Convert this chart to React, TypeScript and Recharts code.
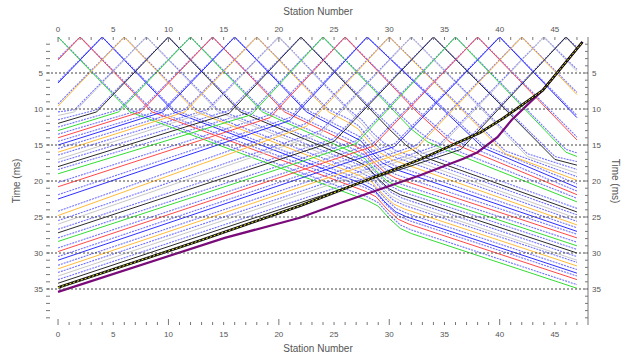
import { LineChart, Line, XAxis, YAxis, ReferenceLine } from "recharts";

// station axis
const stationTicks = [0, 1, 2, 3, 4, 5, 6, 7, 8, 9, 10, 11, 12, 13, 14, 15, 16, 17, 18, 19, 20, 21, 22, 23, 24, 25, 26, 27, 28, 29, 30, 31, 32, 33, 34, 35, 36, 37, 38, 39, 40, 41, 42, 43, 44, 45, 46, 47];

// time axis (ms)
const timeTicks = [1, 2, 3, 4, 5, 6, 7, 8, 9, 10, 11, 12, 13, 14, 15, 16, 17, 18, 19, 20, 21, 22, 23, 24, 25, 26, 27, 28, 29, 30, 31, 32, 33, 34, 35, 36, 37, 38, 39];
const gridTimes = [5, 10, 15, 20, 25, 30, 35];

// shot positions
const shotStations = [0, 2, 4, 6, 8, 10, 12, 14, 16, 18, 20, 22, 24, 26, 28, 30, 32, 34, 36, 38, 40, 42, 44, 46];

// calculated travel times, [station, ms]
const calcPicks = [
  [[0, 0], [6.5, 10.4], [28, 22.7], [29, 23.5], [30, 25.2], [31, 26.6], [32, 27.3], [47, 34.9]],
  [[0, 3.2], [2, 0], [8.5, 10.4], [27.8, 21.4], [28.8, 22.2], [29.8, 23.9], [30.8, 25.3], [31.8, 26.0], [47, 33.7]],
  [[0, 6.4], [4, 0], [10.5, 10.4], [27.6, 20.4], [28.6, 21.2], [29.6, 22.9], [30.6, 24.3], [31.6, 25.0], [47, 32.8]],
  [[0, 9.6], [6, 0], [12.5, 10.4], [27.4, 19.3], [28.4, 20.1], [29.4, 21.8], [30.4, 23.2], [31.4, 23.9], [47, 31.8]],
  [[0, 10.9], [1.5, 10.4], [8, 0], [14.5, 10.4], [27.2, 18.2], [28.2, 19.0], [29.2, 20.7], [30.2, 22.1], [31.2, 22.9], [47, 31.0]],
  [[0, 12.0], [3.5, 10.4], [10, 0], [16.5, 10.4], [27, 17.2], [28, 18.0], [29, 19.7], [30, 21.1], [31, 21.9], [47, 30.0]],
  [[0, 13.0], [5.5, 10.4], [12, 0], [18.5, 10.4], [26.8, 16.1], [27.8, 16.9], [28.8, 18.6], [29.8, 20.0], [30.8, 20.8], [47, 29.0]],
  [[0, 14.0], [7.5, 10.4], [14, 0], [20.5, 10.4], [26.6, 14.9], [27.6, 15.7], [28.6, 17.4], [29.6, 18.8], [30.6, 19.6], [47, 27.9]],
  [[0, 15.0], [9.5, 10.4], [16, 0], [22.5, 10.4], [26.4, 13.6], [27.4, 14.4], [28.4, 16.1], [29.4, 17.5], [30.4, 18.3], [47, 27.0]],
  [[0, 16.0], [11.5, 10.4], [18, 0], [24.5, 10.4], [26.2, 11.8], [27.2, 12.8], [28.2, 14.6], [29.2, 16.1], [30.2, 17.0], [47, 26.1]],
  [[0, 17.0], [13.5, 10.4], [20, 0], [26.5, 10.6], [27.5, 12.0], [28.5, 13.8], [29.5, 15.2], [30.5, 16.2], [47, 25.2]],
  [[0, 18.0], [15.5, 10.6], [22, 0], [28.5, 10.4], [30, 12.8], [31.5, 15.0], [33, 16.6], [47, 24.3]],
  [[0, 19.0], [17.5, 10.8], [24, 0], [30.5, 10.4], [32, 12.8], [33.5, 14.6], [35, 15.6], [47, 22.9]],
  [[0, 20.8], [19.2, 11.2], [26, 0], [32.5, 10.4], [35.5, 14.6], [47, 21.9]],
  [[0, 22.5], [21, 11.6], [28, 0], [38.5, 15.4], [47, 20.9]],
  [[0, 24.8], [22.5, 12.4], [30, 0], [40.5, 16.2], [47, 19.9]],
  [[0, 26.0], [23.8, 13.4], [32, 0], [42.5, 16.6], [47, 18.9]],
  [[0, 27.2], [25, 14.5], [34, 0], [45, 17.0], [47, 17.8]],
  [[0, 28.4], [27, 14.8], [36, 0], [46, 16.0], [47, 16.6]],
  [[0, 29.8], [28.5, 15.2], [38, 0], [47, 14.3]],
  [[0, 31.0], [30.5, 15.2], [40, 0], [47, 11.2]],
  [[0, 32.2], [32.5, 15.4], [42, 0], [47, 8.0]],
  [[0, 33.2], [34.5, 15.4], [44, 0], [47, 4.8]],
  [[0, 34.2], [36.5, 15.6], [46, 0], [47, 1.6]],
];

// observed first breaks, [station, ms]
const obsPicks = [
  [[0, 0], [6.5, 10.1], [28, 22.2], [29, 23.0], [30, 24.7], [31, 26.1], [32, 26.8], [47, 34.4]],
  [[0, 3.0], [2, 0], [8.5, 10.1], [27.8, 20.9], [28.8, 21.7], [29.8, 23.4], [30.8, 24.8], [31.8, 25.5], [47, 33.2]],
  [[0, 6.2], [4, 0], [10.5, 10.1], [27.6, 19.9], [28.6, 20.7], [29.6, 22.4], [30.6, 23.8], [31.6, 24.5], [47, 32.3]],
  [[0, 9.3], [6, 0], [12.5, 10.1], [27.4, 18.8], [28.4, 19.6], [29.4, 21.3], [30.4, 22.7], [31.4, 23.4], [47, 31.3]],
  [[0, 10.4], [1.5, 10.1], [8, 0], [14.5, 10.1], [27.2, 17.7], [28.2, 18.5], [29.2, 20.2], [30.2, 21.6], [31.2, 22.4], [47, 30.5]],
  [[0, 11.5], [3.5, 10.1], [10, 0], [16.5, 10.1], [27, 16.7], [28, 17.5], [29, 19.2], [30, 20.6], [31, 21.4], [47, 29.5]],
  [[0, 12.5], [5.5, 10.1], [12, 0], [18.5, 10.1], [26.8, 15.6], [27.8, 16.4], [28.8, 18.1], [29.8, 19.5], [30.8, 20.3], [47, 28.5]],
  [[0, 13.5], [7.5, 10.1], [14, 0], [20.5, 10.1], [26.6, 14.4], [27.6, 15.2], [28.6, 16.9], [29.6, 18.3], [30.6, 19.1], [47, 27.4]],
  [[0, 14.5], [9.5, 10.1], [16, 0], [22.5, 10.1], [26.4, 13.1], [27.4, 13.9], [28.4, 15.6], [29.4, 17.0], [30.4, 17.8], [47, 26.5]],
  [[0, 15.5], [11.5, 10.1], [18, 0], [24.5, 10.1], [26.2, 11.3], [27.2, 12.3], [28.2, 14.1], [29.2, 15.6], [30.2, 16.5], [47, 25.6]],
  [[0, 16.4], [13.5, 10.1], [20, 0], [26.5, 10.3], [27.5, 11.5], [28.5, 13.3], [29.5, 14.7], [30.5, 15.7], [47, 24.7]],
  [[0, 17.4], [15.5, 10.2], [22, 0], [28.5, 10.1], [30, 12.3], [31.5, 14.5], [33, 16.1], [47, 23.8]],
  [[0, 18.4], [17.5, 10.4], [24, 0], [30.5, 10.1], [32, 12.3], [33.5, 14.1], [35, 15.1], [47, 22.4]],
  [[0, 20.2], [19.2, 10.8], [26, 0], [32.5, 10.1], [35.5, 14.1], [47, 21.4]],
  [[0, 21.9], [21, 11.2], [28, 0], [38.5, 15.0], [47, 20.4]],
  [[0, 24.2], [22.5, 12.0], [30, 0], [40.5, 15.8], [47, 19.4]],
  [[0, 25.5], [23.8, 13.0], [32, 0], [42.5, 16.2], [47, 18.4]],
  [[0, 26.7], [25, 14.1], [34, 0], [45, 16.6], [47, 17.3]],
  [[0, 27.9], [27, 14.4], [36, 0], [46, 15.6], [47, 16.1]],
  [[0, 29.3], [28.5, 14.8], [38, 0], [47, 13.9]],
  [[0, 30.5], [30.5, 14.8], [40, 0], [47, 10.9]],
  [[0, 31.7], [32.5, 15.0], [42, 0], [47, 7.7]],
  [[0, 32.7], [34.5, 15.0], [44, 0], [47, 4.5]],
  [[0, 33.7], [36.5, 15.2], [46, 0], [47, 1.4]],
];

// end shot (thick) and the purple curve
const endShotPicks = [[0, 34.8], [13, 28.2], [22, 23.4], [32.8, 17.0], [38.2, 13.3], [40.3, 11.3], [43.9, 7.4], [47.5, 0.7]];
const purplePicks = [[0, 35.4], [15.1, 27.9], [21.9, 25.1], [25.5, 23.1], [29.8, 20.8], [32.8, 19.2], [36.7, 16.9], [38, 16.0], [39.8, 13.9], [41.1, 11.5], [43.9, 7.4], [47.5, 0.7]];

const shotColors = ["#33dd33", "#ff4848", "#2f2fff", "#ffbb3a", "#c8c8c8", "#2a2a2a"];

const FONT = "'Liberation Sans', Arial, sans-serif";
const TXT = "#555";

const rows = (pts: number[][]) => pts.map(([x, t]) => ({ x, t }));

function TopTick(props: any) {
  const { x, payload } = props;
  const v = payload.value;
  return (
    <g>
      <line x1={x} x2={x} y1={37} y2={v % 10 === 0 ? 42 : 40} stroke="#777" />
      {v % 5 === 0 && (
        <text x={x} y={32} textAnchor="middle" fontSize={8} fill={TXT} fontFamily={FONT}>{v}</text>
      )}
    </g>
  );
}

function BottomTick(props: any) {
  const { x, payload } = props;
  const v = payload.value;
  return (
    <g>
      <line x1={x} x2={x} y1={325} y2={v % 10 === 0 ? 319 : 322} stroke="#777" />
      {v % 5 === 0 && (
        <text x={x} y={337} textAnchor="middle" fontSize={8} fill={TXT} fontFamily={FONT}>{v}</text>
      )}
    </g>
  );
}

function LeftTick(props: any) {
  const { y, payload } = props;
  const v = payload.value;
  return (
    <g>
      <line x1={46} x2={50} y1={y} y2={y} stroke="#777" />
      {v % 5 === 0 && (
        <text x={43} y={y + 3} textAnchor="end" fontSize={8} fill={TXT} fontFamily={FONT}>{v}</text>
      )}
    </g>
  );
}

function RightTick(props: any) {
  const { y, payload } = props;
  const v = payload.value;
  return (
    <g>
      <line x1={585} x2={588} y1={y} y2={y} stroke="#777" />
      {v % 5 === 0 && (
        <text x={592} y={y + 3} textAnchor="start" fontSize={8} fill={TXT} fontFamily={FONT}>{v}</text>
      )}
    </g>
  );
}

const title = (x: number, y: number, text: string, rot = 0) => () => (
  <text
    x={x}
    y={y}
    textAnchor="middle"
    fontSize={10}
    fill={TXT}
    fontFamily={FONT}
    transform={rot ? `rotate(${rot} ${x} ${y})` : undefined}
  >
    {text}
  </text>
);

export default function App() {
  return (
    <div style={{ position: "absolute", left: 0, top: 0, width: 622, height: 356, background: "#fff" }}>
      <LineChart width={622} height={356} margin={{ top: 0, right: 0, bottom: 0, left: 0 }}>
        <XAxis
          xAxisId="top"
          orientation="top"
          type="number"
          dataKey="x"
          domain={[-1, 48]}
          ticks={stationTicks}
          interval={0}
          height={37}
          axisLine={false}
          tickLine={false}
          tick={<TopTick />}
          allowDataOverflow
          label={{ content: title(318, 15, "Station Number") }}
        />
        <XAxis
          xAxisId="bottom"
          orientation="bottom"
          type="number"
          dataKey="x"
          domain={[-1, 48]}
          ticks={stationTicks}
          interval={0}
          height={31}
          axisLine={false}
          tickLine={false}
          tick={<BottomTick />}
          allowDataOverflow
          label={{ content: title(318, 352, "Station Number") }}
        />
        <YAxis
          yAxisId="left"
          orientation="left"
          type="number"
          dataKey="t"
          domain={[0, 40]}
          reversed
          ticks={timeTicks}
          interval={0}
          width={47}
          axisLine={false}
          tickLine={false}
          tick={<LeftTick />}
          allowDataOverflow
          label={{ content: title(20, 181, "Time (ms)", -90) }}
        />
        <YAxis
          yAxisId="right"
          orientation="right"
          type="number"
          domain={[0, 40]}
          reversed
          ticks={timeTicks}
          interval={0}
          width={34}
          axisLine={{ stroke: "#777" }}
          tickLine={false}
          tick={<RightTick />}
          allowDataOverflow
          label={{ content: title(612, 181, "Time (ms)", 90) }}
        />

        {obsPicks.map((pts, i) => (
          <Line
            key={"obs" + shotStations[i]}
            xAxisId="bottom"
            yAxisId="left"
            data={rows(pts)}
            dataKey="t"
            type="linear"
            stroke="#5a5aff"
            strokeWidth={1.1}
            strokeDasharray="2 1"
            strokeOpacity={0.85}
            dot={false}
            activeDot={false}
            isAnimationActive={false}
          />
        ))}
        {calcPicks.map((pts, i) => (
          <Line
            key={"calc" + shotStations[i]}
            xAxisId="bottom"
            yAxisId="left"
            data={rows(pts)}
            dataKey="t"
            type="linear"
            stroke={shotColors[i % shotColors.length]}
            strokeWidth={1}
            dot={false}
            activeDot={false}
            isAnimationActive={false}
          />
        ))}
        <Line
          xAxisId="bottom"
          yAxisId="left"
          data={rows(purplePicks)}
          dataKey="t"
          stroke="#7a0a7a"
          strokeWidth={2.2}
          dot={false}
          activeDot={false}
          isAnimationActive={false}
        />
        <Line
          xAxisId="bottom"
          yAxisId="left"
          data={rows(endShotPicks)}
          dataKey="t"
          stroke="#111"
          strokeWidth={2.6}
          dot={false}
          activeDot={false}
          isAnimationActive={false}
        />
        <Line
          xAxisId="bottom"
          yAxisId="left"
          data={rows(endShotPicks)}
          dataKey="t"
          stroke="#e8e020"
          strokeWidth={1}
          strokeDasharray="2 2"
          dot={false}
          activeDot={false}
          isAnimationActive={false}
        />
        {gridTimes.map((t) => (
          <ReferenceLine
            key={"g" + t}
            xAxisId="bottom"
            yAxisId="left"
            y={t}
            stroke="#444"
            strokeDasharray="2 2"
            strokeWidth={1}
          />
        ))}
      </LineChart>
    </div>
  );
}
